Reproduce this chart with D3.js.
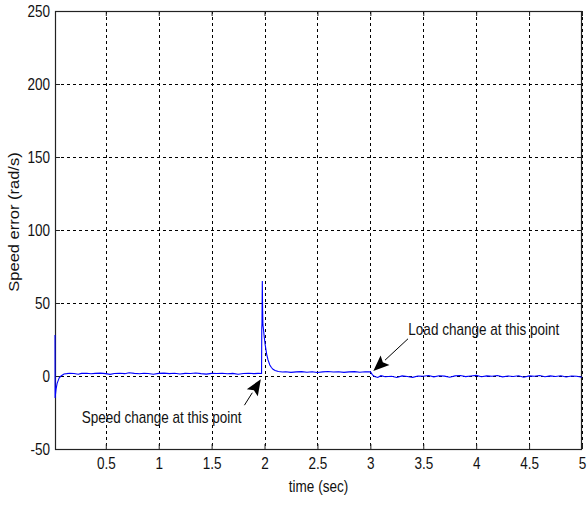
<!DOCTYPE html>
<html>
<head>
<meta charset="utf-8">
<script src="https://cdn.jsdelivr.net/npm/d3@7"></script>
<style>
  html, body { margin: 0; padding: 0; background: #fff; }
  svg { display: block; }
  text { font-family: "Liberation Sans", Arial, sans-serif; fill: #111; }
</style>
</head>
<body>
<svg id="chart" width="587" height="508"></svg>
<script>
// ---- data ----
const timeSec = [
  0.02, 0.021, 0.03, 0.04, 0.048, 0.06, 0.077, 0.105,
  0.13, 0.16, 0.2, 0.24, 0.27, 0.32, 0.36, 0.4, 0.45, 0.5, 0.54, 0.58, 0.63, 0.68, 0.72, 0.77, 0.82, 0.86, 0.9, 0.95,
  1.0, 1.05, 1.1, 1.15, 1.2, 1.25, 1.3, 1.35, 1.4, 1.45, 1.5, 1.55, 1.6, 1.65, 1.7, 1.75, 1.8, 1.85, 1.9, 1.94, 1.972,
  1.974, 1.976, 1.979, 1.982, 1.985, 1.99, 1.997, 2.005, 2.02, 2.033, 2.05, 2.065, 2.08, 2.1, 2.13, 2.17,
  2.2, 2.25, 2.3, 2.35, 2.4, 2.45, 2.5, 2.55, 2.6, 2.65, 2.7, 2.75, 2.8, 2.85, 2.9, 2.95, 2.99,
  3.0, 3.02, 3.04, 3.07, 3.1, 3.14, 3.2, 3.25, 3.3, 3.35, 3.4, 3.45, 3.5, 3.55, 3.6, 3.65, 3.7, 3.75, 3.8, 3.85, 3.9, 3.95,
  4.0, 4.05, 4.1, 4.15, 4.2, 4.25, 4.3, 4.35, 4.4, 4.45, 4.5, 4.55, 4.6, 4.65, 4.7, 4.75, 4.8, 4.85, 4.9, 4.95, 5.0
];
const speedError = [
  28, -15, -9, -5, -3.5, -1.2, 0, 1.4,
  1.6, 1.9, 1.7, 1.2, 1.8, 1.9, 1.5, 1.8, 2.0, 1.6, 1.1, 1.7, 1.9, 1.6, 2.2, 1.8, 1.5, 1.9, 1.7, 1.2,
  1.8, 2.0, 1.6, 1.9, 1.4, 1.8, 1.7, 2.1, 1.6, 1.3, 1.8, 1.7, 1.9, 1.5, 1.8, 1.2, 1.7, 1.9, 1.6, 1.8, 1.7,
  33, 36, 65, 45, 35, 32, 27, 22, 15, 11, 7.5, 5.8, 4.6, 3.8, 3.1, 2.7,
  2.9, 2.5, 2.8, 3.0, 2.6, 2.9, 2.4, 2.8, 3.1, 2.7, 2.9, 2.5, 2.8, 3.0, 2.6, 2.9, 2.8,
  3.0, 0.8, -0.3, -1.0, 0.2, -0.5, -0.2, -1.0, 0.1, -0.3, -0.9, 0, -0.2, 0.3, -0.6, 0.2, -0.1, -0.8, 0.1, 0.3, -0.4, 0,
  0.4, -0.5, 0.1, -0.2, 0.3, -0.6, 0, -0.3, 0.2, -0.8, 0.1, -0.2, 0.3, -0.5, 0.1, -0.3, 0.2, -0.7, 0, -0.2, -0.9
];
const xTicks = [0.5, 1, 1.5, 2, 2.5, 3, 3.5, 4, 4.5, 5];
const xTickLabels = ["0.5", "1", "1.5", "2", "2.5", "3", "3.5", "4", "4.5", "5"];
const yTicks = [-50, 0, 50, 100, 150, 200, 250];
const yTickLabels = ["-50", "0", "50", "100", "150", "200", "250"];
const xDomain = [0.02, 5];
const yDomain = [-50, 250];
const xLabel = "time (sec)";
const yLabel = "Speed error (rad/s)";
// annotations in data units: text anchor, arrow tail, arrow tip
const annoTexts = ["Speed change at this point", "Load change at this point"];
const annoTextAt = [[0.272, -32.5], [3.359, 28]];
const annoTail = [[1.81, -20], [3.356, 25.5]];
const annoTip = [[1.965, -2.2], [3.028, 3.4]];

// ---- layout ----
const svg = d3.select("#chart");
const L = 55, R = 582, T = 11, B = 449;
const FS = 16, SX = 0.845;

const x = d3.scaleLinear().domain(xDomain).range([L, R]);
const y = d3.scaleLinear().domain(yDomain).range([B, T]);

// grid
const grid = svg.append("g").attr("stroke", "#000").attr("stroke-width", 1).attr("stroke-dasharray", "3,3");
xTicks.forEach(t => {
  grid.append("line").attr("x1", Math.round(x(t)) + 0.5).attr("x2", Math.round(x(t)) + 0.5)
    .attr("y1", T).attr("y2", B);
});
yTicks.forEach(t => {
  grid.append("line").attr("y1", Math.round(y(t)) + 0.5).attr("y2", Math.round(y(t)) + 0.5)
    .attr("x1", L).attr("x2", R);
});

// axes (inward ticks on all four sides)
function styleAxis(g) {
  g.select(".domain").remove();
  g.selectAll(".tick line").attr("stroke", "#222").attr("stroke-width", 1);
}
const xb = svg.append("g").attr("transform", `translate(0,${B})`)
  .call(d3.axisBottom(x).tickValues(xTicks).tickSize(-5).tickPadding(9)
    .tickFormat((d, i) => xTickLabels[i]));
styleAxis(xb);
xb.selectAll(".tick text").attr("font-size", FS).attr("font-family", null).attr("fill", "#111")
  .attr("transform", `scale(${SX},1)`);

svg.append("g").attr("transform", `translate(0,${T})`)
  .call(d3.axisTop(x).tickValues(xTicks).tickSize(-5).tickFormat(""))
  .call(styleAxis);

const yl = svg.append("g").attr("transform", `translate(${L},0)`)
  .call(d3.axisLeft(y).tickValues(yTicks).tickSize(-5).tickPadding(6)
    .tickFormat((d, i) => yTickLabels[i]));
styleAxis(yl);
yl.selectAll(".tick text").attr("font-size", FS).attr("font-family", null).attr("fill", "#111")
  .attr("transform", `scale(${SX},1)`);

svg.append("g").attr("transform", `translate(${R},0)`)
  .call(d3.axisRight(y).tickValues(yTicks).tickSize(-5).tickFormat(""))
  .call(styleAxis);

// border
svg.append("rect").attr("x", L + 0.5).attr("y", T + 0.5).attr("width", R - L - 1).attr("height", B - T)
  .attr("fill", "none").attr("stroke", "#222").attr("stroke-width", 1.2);

// series
const pts = timeSec.map((t, i) => [t, speedError[i]]);
svg.append("path").datum(pts)
  .attr("fill", "none").attr("stroke", "#0000ff").attr("stroke-width", 1.1)
  .attr("d", d3.line().x(d => x(d[0])).y(d => y(d[1])));

// axis labels
svg.append("text").attr("text-anchor", "middle")
  .attr("transform", `translate(${(L + R) / 2},492) scale(${SX},1)`)
  .attr("font-size", FS).text(xLabel);
svg.append("text").attr("text-anchor", "middle")
  .attr("transform", `translate(19,222) rotate(-90) scale(1,${SX})`)
  .attr("font-size", 16.5).text(yLabel);

// annotations
annoTexts.forEach((txt, i) => {
  svg.append("text")
    .attr("transform", `translate(${x(annoTextAt[i][0])},${y(annoTextAt[i][1])}) scale(${SX},1)`)
    .attr("font-size", FS).text(txt);
  const x0 = x(annoTail[i][0]), y0 = y(annoTail[i][1]);
  const x1 = x(annoTip[i][0]), y1 = y(annoTip[i][1]);
  const ang = Math.atan2(y1 - y0, x1 - x0);
  const hl = 16, hw = 6.5;
  const bx = x1 - hl * Math.cos(ang), by = y1 - hl * Math.sin(ang);
  svg.append("line").attr("x1", x0).attr("y1", y0).attr("x2", bx).attr("y2", by)
    .attr("stroke", "#000").attr("stroke-width", 1);
  const px = -Math.sin(ang), py = Math.cos(ang);
  const nx = x1 - (hl - 3) * Math.cos(ang), ny = y1 - (hl - 3) * Math.sin(ang);
  svg.append("path")
    .attr("d", `M${x1},${y1} L${bx + px * hw},${by + py * hw} L${nx},${ny} L${bx - px * hw},${by - py * hw} Z`)
    .attr("fill", "#000");
});
</script>
</body>
</html>
